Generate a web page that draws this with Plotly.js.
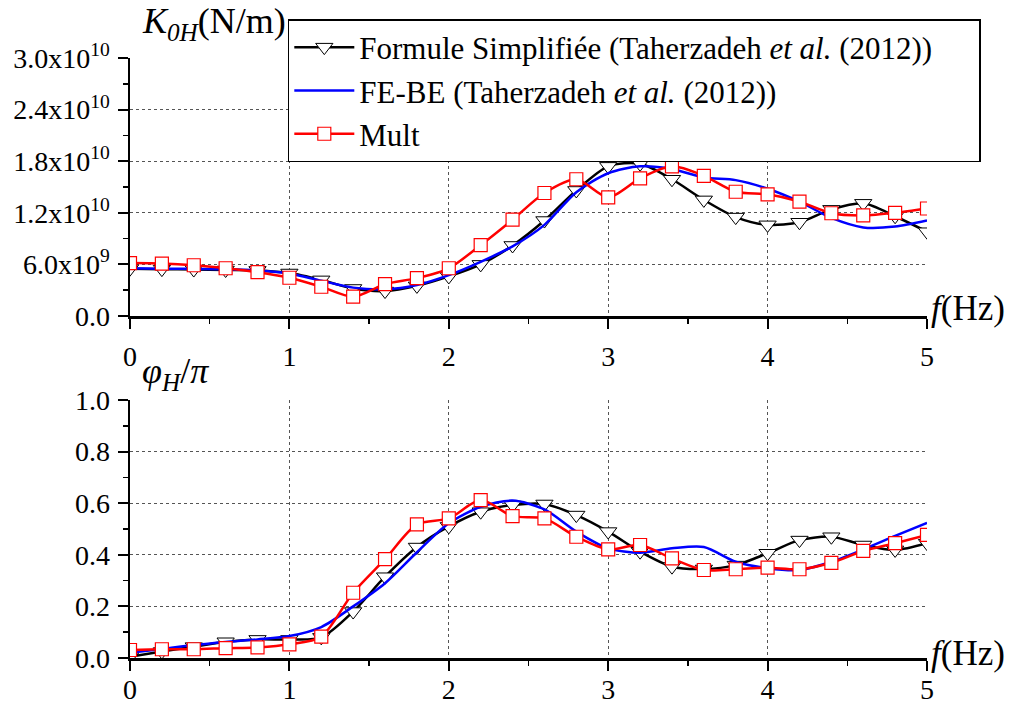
<!DOCTYPE html>
<html>
<head>
<meta charset="utf-8">
<script src="https://cdn.plot.ly/plotly-3.0.1.min.js"></script>
<style>html,body{margin:0;padding:0;background:#fff;}#chart{width:1014px;height:704px;}</style>
</head>
<body>
<div id="chart"></div>
<script>
// Frequency samples (Hz)
const freq = [0,0.2,0.4,0.6,0.8,1.0,1.2,1.4,1.6,1.8,2.0,2.2,2.4,2.6,2.8,3.0,3.2,3.4,3.6,3.8,4.0,4.2,4.4,4.6,4.8,5.0];

// K0H (N/m)
const kFormule = [5.5e9,5.45e9,5.4e9,5.35e9,5.3e9,5.0e9,4.2e9,3.2e9,2.9e9,3.5e9,4.6e9,6.0e9,8.2e9,11.1e9,14.6e9,17.4e9,17.7e9,15.9e9,13.5e9,11.5e9,10.6e9,10.9e9,12.4e9,13.1e9,11.6e9,9.8e9];
const kFEBE    = [5.55e9,5.5e9,5.48e9,5.45e9,5.3e9,4.95e9,4.1e9,3.3e9,3.1e9,3.6e9,4.75e9,6.3e9,8.1e9,10.6e9,14.4e9,16.6e9,17.4e9,17.1e9,16.1e9,15.8e9,14.8e9,13.3e9,11.4e9,10.3e9,10.4e9,11.1e9];
const kMult    = [6.15e9,6.1e9,5.9e9,5.55e9,5.1e9,4.45e9,3.4e9,2.25e9,3.7e9,4.4e9,5.55e9,8.25e9,11.2e9,14.3e9,15.9e9,13.8e9,16.0e9,17.4e9,16.3e9,14.45e9,14.15e9,13.3e9,11.95e9,11.7e9,12.0e9,12.5e9];

// phi_H / pi
const pFormule = [0.005,0.025,0.044,0.063,0.072,0.072,0.08,0.18,0.315,0.43,0.51,0.567,0.593,0.597,0.554,0.49,0.412,0.354,0.345,0.36,0.406,0.457,0.47,0.438,0.419,0.445];
const pFEBE    = [0.02,0.035,0.05,0.062,0.072,0.085,0.12,0.2,0.29,0.41,0.522,0.586,0.61,0.576,0.49,0.425,0.408,0.425,0.43,0.373,0.348,0.341,0.373,0.421,0.473,0.524];
const pMult    = [0.031,0.034,0.034,0.038,0.041,0.053,0.083,0.253,0.383,0.518,0.541,0.612,0.55,0.541,0.47,0.421,0.438,0.386,0.341,0.344,0.35,0.344,0.369,0.415,0.445,0.477];

// Tick labels
const kTickVals = [0, 6e9, 1.2e10, 1.8e10, 2.4e10, 3.0e10];
const kTickText = ['0.0', '6.0x10<sup>9</sup>', '1.2x10<sup>10</sup>', '1.8x10<sup>10</sup>', '2.4x10<sup>10</sup>', '3.0x10<sup>10</sup>'];
const pTickVals = [0, 0.2, 0.4, 0.6, 0.8, 1.0];
const pTickText = ['0.0', '0.2', '0.4', '0.6', '0.8', '1.0'];
const xTickVals = [0, 1, 2, 3, 4, 5];

const names = ['Formule Simplifiée (Taherzadeh <i>et al.</i> (2012))', 'FE-BE (Taherzadeh <i>et al.</i> (2012))', 'Mult'];

const FONT = 'Liberation Serif, Times New Roman, serif';

function tr(y, which, xa, ya, show) {
  const base = {x: freq, y: y, xaxis: xa, yaxis: ya, name: names[which], showlegend: show, line: {shape: 'spline', smoothing: 0.8, width: 2.5}};
  if (which === 0) {
    base.mode = 'lines+markers';
    base.line.color = '#000000';
    base.marker = {symbol: 'triangle-down', size: 15, color: '#ffffff', line: {color: '#000000', width: 1}};
  } else if (which === 1) {
    base.mode = 'lines';
    base.line.color = '#0000ff';
  } else {
    base.mode = 'lines+markers';
    base.line.color = '#ff0000';
    base.marker = {symbol: 'square', size: 13, color: '#ffffff', line: {color: '#ff0000', width: 1.2}};
  }
  return base;
}

const data = [
  tr(kFormule, 0, 'x', 'y', true),
  tr(kFEBE, 1, 'x', 'y', true),
  tr(kMult, 2, 'x', 'y', true),
  tr(pFormule, 0, 'x2', 'y2', false),
  tr(pFEBE, 1, 'x2', 'y2', false),
  tr(pMult, 2, 'x2', 'y2', false)
];

const tickFont = {family: FONT, size: 28, color: '#000'};

function mainX(anchor, standoff) {
  return {
    anchor: anchor, domain: [0, 1], range: [0, 5], tickvals: xTickVals, ticks: 'outside', ticklen: 10, tickwidth: 2,
    tickcolor: '#000', showline: true, linewidth: 2.5, linecolor: '#000', zeroline: false,
    showgrid: true, gridcolor: '#555', griddash: 'dot', gridwidth: 1, tickfont: tickFont, ticklabelstandoff: standoff,
    minor: {dtick: 0.5, ticks: 'outside', ticklen: 5, tickwidth: 1.5, tickcolor: '#000', showgrid: false}
  };
}
function mirrorX(over, anchor) {
  return {
    overlaying: over, anchor: anchor, side: 'top', range: [0, 5], tickvals: xTickVals, ticks: 'inside', ticklen: 10, tickwidth: 2,
    tickcolor: '#000', showline: true, linewidth: 2.5, linecolor: '#000', zeroline: false, showgrid: false, showticklabels: false,
    minor: {dtick: 0.5, ticks: 'inside', ticklen: 5, tickwidth: 1.5, tickcolor: '#000'}
  };
}
function mainY(anchor, domain, range, vals, text, minorDt) {
  return {
    anchor: anchor, domain: domain, range: range, tickvals: vals, ticktext: text, ticks: 'outside', ticklen: 10, tickwidth: 2,
    tickcolor: '#000', showline: true, linewidth: 2.5, linecolor: '#000', zeroline: false,
    showgrid: true, gridcolor: '#555', griddash: 'dot', gridwidth: 1, tickfont: tickFont, ticklabelstandoff: 2,
    minor: {dtick: minorDt, ticks: 'outside', ticklen: 5, tickwidth: 1.5, tickcolor: '#000', showgrid: false}
  };
}
function mirrorY(over, anchor, range, vals, minorDt) {
  return {
    overlaying: over, anchor: anchor, side: 'right', range: range, tickvals: vals, ticks: 'inside', ticklen: 10, tickwidth: 2,
    tickcolor: '#000', showline: true, linewidth: 2.5, linecolor: '#000', zeroline: false, showgrid: false, showticklabels: false,
    minor: {dtick: minorDt, ticks: 'inside', ticklen: 5, tickwidth: 1.5, tickcolor: '#000'}
  };
}

const layout = {
  width: 1014, height: 704,
  margin: {l: 130, r: 87, t: 58, b: 46},
  paper_bgcolor: '#fff', plot_bgcolor: '#fff',
  font: {family: FONT, color: '#000'},
  showlegend: true,
  legend: {
    orientation: 'h', entrywidth: 615, entrywidthmode: 'pixels',
    x: 0.198, y: 1.065, xanchor: 'left', yanchor: 'top', xref: 'paper', yref: 'paper',
    bgcolor: '#fff', bordercolor: '#000', borderwidth: 1.5,
    font: {family: FONT, size: 31, color: '#000'}, itemwidth: 60, tracegroupgap: 0,
    traceorder: 'normal'
  },
  xaxis: mainX('y', 4),
  yaxis: mainY('x', [0.57, 1], [0, 3.0e10], kTickVals, kTickText, 3e9),
  xaxis3: mirrorX('x', 'y'),
  yaxis3: mirrorY('y', 'x', [0, 3.0e10], kTickVals, 3e9),
  xaxis2: mainX('y2', -5),
  yaxis2: mainY('x2', [0, 0.43], [0, 1], pTickVals, pTickText, 0.1),
  xaxis4: mirrorX('x2', 'y2'),
  yaxis4: mirrorY('y2', 'x2', [0, 1], pTickVals, 0.1),
  annotations: [
    {xref: 'paper', yref: 'paper', x: 0.012, y: 1.058, xanchor: 'left', yanchor: 'middle', showarrow: false,
     text: '<i>K</i><sub><i>0H</i></sub>(N/m)', font: {family: FONT, size: 36, color: '#000'}},
    {xref: 'paper', yref: 'paper', x: 1.003, y: 0.583, xanchor: 'left', yanchor: 'middle', showarrow: false,
     text: '<i>f</i>(Hz)', font: {family: FONT, size: 35, color: '#000'}},
    {xref: 'paper', yref: 'paper', x: 0.013, y: 0.475, xanchor: 'left', yanchor: 'middle', showarrow: false,
     text: '<i>φ</i><sub><i>H</i></sub>/<i>π</i>', font: {family: FONT, size: 36, color: '#000'}},
    {xref: 'paper', yref: 'paper', x: 1.003, y: 0.008, xanchor: 'left', yanchor: 'middle', showarrow: false,
     text: '<i>f</i>(Hz)', font: {family: FONT, size: 35, color: '#000'}}
  ]
};

Plotly.newPlot('chart', data, layout, {displayModeBar: false, staticPlot: true});
</script>
</body>
</html>
